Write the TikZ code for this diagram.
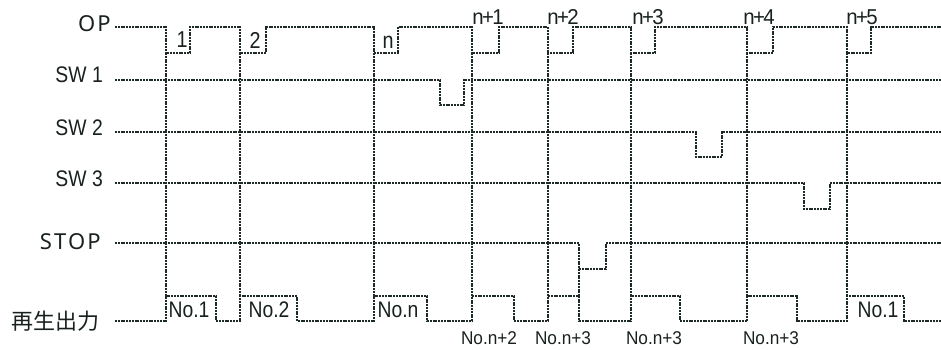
\documentclass[tikz,border=0pt]{standalone}
\usepackage{fontspec}
\setmainfont{Liberation Sans}
\newfontfamily\wideF[LetterSpace=10]{Noto Sans}
\newfontfamily\narF[FakeStretch=0.86]{Liberation Sans}
\newfontfamily\topF[FakeStretch=0.95,LetterSpace=-8]{Liberation Sans}
\newfontfamily\botF[FakeStretch=0.93]{Liberation Sans}
\newfontfamily\cjkF{Noto Sans CJK JP}
\definecolor{linec}{HTML}{1E2A28}
\definecolor{textc}{HTML}{18211F}
\tikzset{
  sig/.style={draw=linec, line width=1.6pt, dash pattern=on 2pt off 0.8pt},
  lbl/.style={text=textc, inner sep=0pt},
  sidelbl/.style={lbl, anchor=east, font=\narF\fontsize{22.5}{22.5}\selectfont},
  widelbl/.style={lbl, anchor=east, font=\wideF\fontsize{22}{22}\selectfont},
  pulselbl/.style={lbl, font=\narF\fontsize{23}{23}\selectfont},
  toplbl/.style={lbl, font=\topF\fontsize{21.5}{21.5}\selectfont},
  inlbl/.style={lbl, font=\narF\fontsize{22.5}{22.5}\selectfont},
  botlbl/.style={lbl, font=\botF\fontsize{18.5}{18.5}\selectfont}
}
\begin{document}
\begin{tikzpicture}[x=1pt,y=-1pt]
\useasboundingbox (0,0) rectangle (941,349);
% left labels
\node[widelbl] (op) at (111,24) {OP};
\node[sidelbl] (sw1) at (103,75) {SW 1};
\node[sidelbl] (sw2) at (103,127.5) {SW 2};
\node[sidelbl] (sw3) at (103,179) {SW 3};
\node[widelbl] (stop) at (101,241.5) {STOP};
\node[lbl, anchor=east, font=\cjkF\fontsize{22}{22}\selectfont] (out) at (100,321) {再生出力};
% OP waveform
\draw[sig] (115,27) -- (166,27) -- (166,53) -- (190,53) -- (190,27) -- (240,27) -- (240,53) -- (266,53) -- (266,27)
  -- (374,27) -- (374,53) -- (398,53) -- (398,27) -- (472,27) -- (472,53) -- (499,53) -- (499,27)
  -- (548,27) -- (548,53) -- (573,53) -- (573,27) -- (631,27) -- (631,53) -- (655,53) -- (655,27)
  -- (747,27) -- (747,53) -- (773,53) -- (773,27) -- (847,27) -- (847,53) -- (871,53) -- (871,27) -- (941,27);
% SW1, SW2, SW3, STOP
\draw[sig] (115,80) -- (440,80) -- (440,105) -- (464,105) -- (464,80) -- (941,80);
\draw[sig] (115,132) -- (696,132) -- (696,157) -- (722,157) -- (722,132) -- (941,132);
\draw[sig] (115,183) -- (804,183) -- (804,209) -- (830,209) -- (830,183) -- (941,183);
\draw[sig] (115,243) -- (579,243) -- (579,269) -- (606,269) -- (606,243) -- (941,243);
\draw[sig] (579,269) -- (579,296);
% output waveform
\draw[sig] (115,321) -- (166,321) -- (166,296) -- (216,296) -- (216,321) -- (240,321) -- (240,296) -- (297,296) -- (297,321)
  -- (374,321) -- (374,296) -- (427,296) -- (427,321) -- (472,321) -- (472,296) -- (514,296) -- (514,321)
  -- (548,321) -- (548,296) -- (579,296) -- (579,321) -- (631,321) -- (631,296) -- (680,296) -- (680,321)
  -- (747,321) -- (747,296) -- (797,296) -- (797,321) -- (847,321) -- (847,296) -- (904,296) -- (904,321) -- (941,321);
% vertical timing lines
\foreach \x in {166,240,374,472,548,631,747,847}
  \draw[sig] (\x,53) -- (\x,296);
% pulse labels
\node[pulselbl] (p1) at (182,40) {1};
\node[pulselbl] (p2) at (255,40) {2};
\node[pulselbl] (pn) at (388,42) {n};
\node[toplbl] (pn1) at (488,17) {n+1};
\node[toplbl] (pn2) at (563,17) {n+2};
\node[toplbl] (pn3) at (648,17) {n+3};
\node[toplbl] (pn4) at (759,17) {n+4};
\node[toplbl] (pn5) at (862,17) {n+5};
% output labels
\node[inlbl] (o1) at (189,310) {No.1};
\node[inlbl] (o2) at (269,310) {No.2};
\node[inlbl] (on) at (398,310) {No.n};
\node[inlbl] (o1b) at (878,310) {No.1};
\node[botlbl] (on2) at (489,338.5) {No.n+2};
\node[botlbl] (on3a) at (563,338.5) {No.n+3};
\node[botlbl] (on3b) at (654,338.5) {No.n+3};
\node[botlbl] (on3c) at (771,338.5) {No.n+3};
\end{tikzpicture}
\end{document}
